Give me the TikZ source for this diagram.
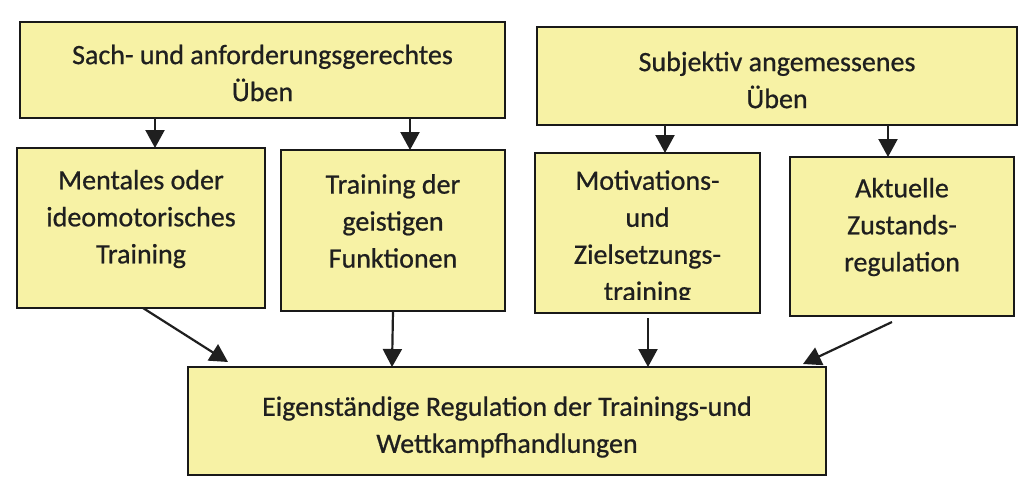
\documentclass[tikz,border=0pt]{standalone}
\usepackage{fontspec}
\setmainfont{Carlito}[FakeBold=0.7]
\usetikzlibrary{arrows.meta}
\definecolor{boxfill}{RGB}{247,242,165}
\begin{document}
\begin{tikzpicture}[x=1pt,y=-1pt,
  box/.style={draw=black!90, line width=2.6pt, fill=boxfill, inner sep=0pt, outer sep=0pt},
  lbl/.style={align=center, font=\fontsize{28}{37}\selectfont, inner sep=0pt, text=black!88},
  arr/.style={-{Triangle[length=18pt,width=19pt]}, line width=2.2pt, draw=black!88}]
\useasboundingbox (0,0) rectangle (1024,491);
\fill[white] (0,0) rectangle (1024,491);
% top boxes
\node[box, minimum width=485pt, minimum height=96pt] (A) at (262.5,70) {};
\node[box, minimum width=480pt, minimum height=98pt] (B) at (777,76) {};
% middle boxes
\node[box, minimum width=248pt, minimum height=160pt] (C1) at (141,228) {};
\node[box, minimum width=224pt, minimum height=161pt] (C2) at (393,230.5) {};
\node[box, minimum width=225pt, minimum height=160pt] (C3) at (647.5,233) {};
\node[box, minimum width=224pt, minimum height=159pt] (C4) at (902,236.5) {};
% bottom box
\node[box, minimum width=638pt, minimum height=108pt] (D) at (507,421) {};
% texts
\node[lbl] (tA) at (262.5,73) {Sach- und anforderungsgerechtes\\Üben};
\node[lbl] (tB) at (777,80) {Subjektiv angemessenes\\Üben};
\node[lbl] (tC1) at (141,219) {Mentales oder\\ideomotorisches\\Training};
\node[lbl] (tC2) at (393,221) {Training der\\geistigen\\Funktionen};
\begin{scope}
  \clip (535,150) rectangle (760,299);
  \node[lbl] (tC3) at (647.5,238) {Motivations-\\und\\Zielsetzungs-\\training};
\end{scope}
\node[lbl] (tC4) at (902,227) {Aktuelle\\Zustands-\\regulation};
\node[lbl] (tD) at (507,427) {Eigenständige Regulation der Trainings-und\\Wettkampfhandlungen};
% arrows
\draw[arr] ([xshift=-107.5pt]A.south) -- ([xshift=14pt]C1.north);
\draw[arr] ([xshift=147.5pt]A.south) -- ([xshift=17pt]C2.north);
\draw[arr] ([xshift=-112pt]B.south) -- ([xshift=17.5pt]C3.north);
\draw[arr] ([xshift=111pt]B.south) -- ([xshift=-14pt]C4.north);
\draw[arr] ([xshift=2pt]C1.south) -- ([xshift=-279pt,yshift=5pt]D.north);
\draw[arr] (C2.south) -- ([xshift=-115pt]D.north);
\draw[arr] ([xshift=0.5pt,yshift=-5pt]C3.south) -- ([xshift=141pt]D.north);
\draw[arr] ([xshift=-10pt,yshift=-6pt]C4.south) -- ([xshift=296pt,yshift=3pt]D.north);
\end{tikzpicture}
\end{document}
